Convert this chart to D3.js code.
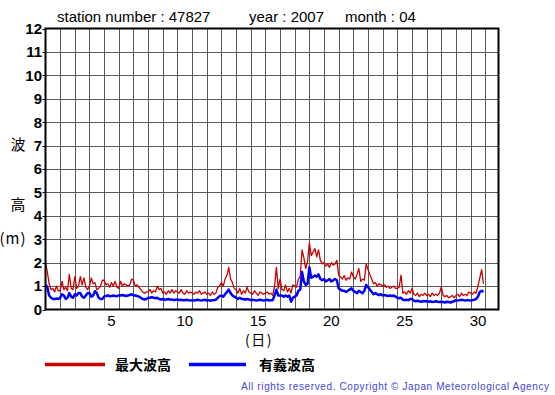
<!DOCTYPE html>
<html><head><meta charset="utf-8">
<script src="https://cdn.jsdelivr.net/npm/d3@7"></script>
<style>
html,body{margin:0;padding:0;background:#fff;}
svg{display:block;}
</style></head>
<body>
<svg id="chart" width="555" height="395"></svg>
<script>
// ---- data (3-hourly samples, April 2007, station 47827) ----
const stationNumber = "47827";
const year = "2007";
const month = "04";
const stepsPerDay = 8;
// 最大波高 (maximum wave height, m)
const maxWave = [
 2.0,1.6,1.1,0.85,0.9,0.75,1.0,0.8,
 0.8,1.2,0.85,0.95,0.8,1.5,0.9,0.85,
 1.4,0.9,1.0,1.4,1.05,1.35,0.95,0.85,
 1.0,1.35,1.1,1.15,0.85,0.9,1.0,1.25,
 1.25,1.05,1.1,0.95,1.15,1.0,1.2,0.95,
 0.9,1.2,1.0,1.1,1.05,1.0,1.05,1.3,
 1.25,1.0,1.05,0.95,0.85,0.75,0.7,0.75,
 0.75,0.85,0.7,0.8,0.75,1.0,0.85,0.9,
 0.7,0.75,0.65,0.8,0.7,0.85,0.7,0.8,
 0.75,0.7,0.85,0.7,0.65,0.8,0.7,0.75,
 0.7,0.65,0.75,0.7,0.8,0.65,0.7,0.75,
 0.65,0.7,0.6,0.75,0.65,0.7,0.95,1.0,
 1.15,1.0,1.3,1.45,1.8,1.3,1.15,0.9,
 0.85,0.7,0.9,0.65,0.8,0.7,0.95,0.75,
 0.7,0.65,0.8,0.7,0.6,0.75,0.7,0.65,
 0.7,0.75,0.65,0.7,0.6,1.0,1.8,0.9,
 1.3,0.85,0.8,1.05,0.75,0.9,0.7,1.05,
 1.0,0.95,1.3,1.4,2.55,2.2,1.75,2.05,
 2.85,2.3,2.45,2.6,2.25,2.55,2.1,1.95,
 2.0,1.85,1.95,1.8,2.0,1.9,1.95,2.1,
 1.45,1.4,1.3,1.45,1.25,1.35,1.3,1.6,
 1.4,1.3,1.5,1.75,1.2,1.3,1.25,1.95,
 1.7,1.5,1.3,1.1,1.15,1.0,1.1,1.05,
 1.0,1.05,0.95,1.0,0.9,0.95,1.0,0.9,
 0.9,0.95,1.47,0.7,0.75,0.65,0.8,0.7,
 0.9,0.65,0.6,0.7,0.55,0.65,0.6,0.7,
 0.6,0.65,0.55,0.7,0.6,0.65,0.6,0.7,
 0.97,0.6,0.55,0.6,0.5,0.55,0.6,0.5,
 0.6,0.65,0.55,0.7,0.6,0.65,0.6,0.75,
 0.7,0.65,0.75,0.7,1.0,1.35,1.7,1.1
];
// 有義波高 (significant wave height, m)
const sigWave = [
 1.07,0.95,0.6,0.5,0.45,0.45,0.47,0.45,
 0.5,0.65,0.6,0.45,0.5,0.7,0.55,0.5,
 0.65,0.6,0.7,0.7,0.55,0.5,0.6,0.7,
 0.7,0.55,0.6,0.78,0.7,0.5,0.45,0.45,
 0.55,0.58,0.6,0.57,0.58,0.6,0.58,0.57,
 0.6,0.6,0.62,0.6,0.58,0.6,0.62,0.65,
 0.6,0.6,0.58,0.55,0.5,0.45,0.43,0.45,
 0.5,0.5,0.52,0.5,0.48,0.5,0.45,0.43,
 0.45,0.42,0.43,0.45,0.42,0.43,0.4,0.42,
 0.43,0.4,0.42,0.4,0.4,0.42,0.4,0.38,
 0.4,0.38,0.4,0.42,0.4,0.38,0.4,0.42,
 0.38,0.4,0.37,0.4,0.4,0.42,0.5,0.57,
 0.6,0.55,0.65,0.75,0.85,0.7,0.6,0.55,
 0.5,0.45,0.5,0.45,0.45,0.42,0.45,0.43,
 0.4,0.42,0.4,0.38,0.4,0.42,0.4,0.38,
 0.4,0.42,0.38,0.4,0.4,0.6,0.85,0.6,
 0.6,0.6,0.55,0.6,0.55,0.6,0.33,0.5,
 0.55,0.6,0.8,0.85,1.6,1.2,1.05,1.1,
 1.8,1.35,1.4,1.45,1.4,1.5,1.3,1.25,
 1.3,1.2,1.25,1.3,1.2,1.25,1.3,1.25,
 0.9,0.85,0.8,0.8,0.75,0.8,0.85,0.9,
 0.8,0.75,0.7,0.8,0.75,0.7,0.8,1.05,
 0.95,0.85,0.75,0.65,0.7,0.65,0.62,0.65,
 0.6,0.62,0.6,0.58,0.6,0.57,0.6,0.55,
 0.5,0.48,0.5,0.42,0.4,0.42,0.4,0.45,
 0.45,0.38,0.35,0.37,0.35,0.33,0.36,0.35,
 0.35,0.33,0.35,0.32,0.33,0.35,0.33,0.32,
 0.33,0.32,0.3,0.33,0.32,0.3,0.33,0.35,
 0.4,0.38,0.4,0.42,0.4,0.38,0.4,0.4,
 0.38,0.4,0.42,0.45,0.55,0.75,0.8,0.75
];
const xTickDays = [5,10,15,20,25,30];
const yTicks = [0,1,2,3,4,5,6,7,8,9,10,11,12];
const legendLabels = ["最大波高","有義波高"];
const seriesColors = ["#cc0000","#0000ff"];

// ---- layout ----
const L = 45.5, R = 498.5, T = 28.5, B = 309.5;
const svg = d3.select("#chart");
const x = d3.scaleLinear().domain([0, 30.9]).range([L, R]);
const y = d3.scaleLinear().domain([0, 12]).range([B, T]);
const sans = "'Liberation Sans', Arial, Helvetica, sans-serif";
const cjk = "'Noto Sans CJK JP', 'Noto Sans CJK SC', sans-serif";

// grid
const g = svg.append("g");
g.selectAll(".vg").data(d3.range(1, 31)).enter().append("line")
  .attr("x1", d => Math.round(x(d)) + 0.5).attr("x2", d => Math.round(x(d)) + 0.5)
  .attr("y1", T).attr("y2", B).attr("stroke", "#5a5a5a").attr("stroke-width", 1);
g.selectAll(".hg").data(yTicks.slice(1, -1)).enter().append("line")
  .attr("x1", L).attr("x2", R)
  .attr("y1", d => Math.round(y(d)) + 0.5).attr("y2", d => Math.round(y(d)) + 0.5)
  .attr("stroke", "#5a5a5a").attr("stroke-width", 1);

// left ticks
g.selectAll(".yt").data(yTicks).enter().append("line")
  .attr("x1", L - 3).attr("x2", L)
  .attr("y1", d => Math.round(y(d)) + 0.5).attr("y2", d => Math.round(y(d)) + 0.5)
  .attr("stroke", "#000").attr("stroke-width", 1);

// series
const line = d3.line().x((d, i) => x(i / stepsPerDay)).y(d => y(d));
svg.append("path").datum(maxWave).attr("d", line)
  .attr("fill", "none").attr("stroke", seriesColors[0]).attr("stroke-width", 1.3)
  .attr("stroke-linejoin", "round");
svg.append("path").datum(sigWave).attr("d", line)
  .attr("fill", "none").attr("stroke", seriesColors[1]).attr("stroke-width", 2.5)
  .attr("stroke-linejoin", "round");

// frame
svg.append("rect").attr("x", L).attr("y", T).attr("width", R - L).attr("height", B - T)
  .attr("fill", "none").attr("stroke", "#000").attr("stroke-width", 2);

// y tick labels
svg.selectAll(".yl").data(yTicks).enter().append("text")
  .attr("x", 42).attr("y", d => y(d)).attr("dy", "0.36em")
  .attr("text-anchor", "end").attr("font-family", sans).attr("font-weight", "bold")
  .attr("font-size", 15).text(d => d);

// x tick labels
svg.selectAll(".xl").data(xTickDays).enter().append("text")
  .attr("x", d => x(d - 0.5)).attr("y", 326)
  .attr("text-anchor", "middle").attr("font-family", sans)
  .attr("font-size", 15).text(d => d);

// axis titles
svg.append("text").attr("x", 259).attr("y", 345).attr("text-anchor", "middle")
  .attr("font-family", cjk).attr("font-size", 14).attr("letter-spacing", 1.5).text("(日)");
svg.append("text").attr("x", 18).attr("y", 150).attr("text-anchor", "middle")
  .attr("font-family", cjk).attr("font-size", 15).text("波");
svg.append("text").attr("x", 18).attr("y", 210).attr("text-anchor", "middle")
  .attr("font-family", cjk).attr("font-size", 15).text("高");
svg.append("text").attr("x", 13).attr("y", 244).attr("text-anchor", "middle")
  .attr("font-family", cjk).attr("font-size", 15).attr("letter-spacing", 1).text("(m)");

// title
const title = svg.append("text").attr("y", 22).attr("font-family", sans).attr("font-size", 15);
title.append("tspan").attr("x", 57).text("station number : " + stationNumber);
title.append("tspan").attr("x", 249).text("year : " + year);
title.append("tspan").attr("x", 345).text("month : " + month);

// legend
const legX = [[45, 105, 115], [189, 246, 259]];
legendLabels.forEach((lab, i) => {
  svg.append("line").attr("x1", legX[i][0]).attr("x2", legX[i][1])
    .attr("y1", 364.5).attr("y2", 364.5).attr("stroke", seriesColors[i]).attr("stroke-width", 3.5);
  svg.append("text").attr("x", legX[i][2]).attr("y", 370)
    .attr("font-family", cjk).attr("font-weight", "bold").attr("font-size", 14).text(lab);
});

// footer
svg.append("text").attr("x", 241).attr("y", 390).attr("font-family", sans)
  .attr("font-size", 10).attr("fill", "#4646dc")
  .attr("textLength", 308).attr("lengthAdjust", "spacing")
  .text("All rights reserved. Copyright © Japan Meteorological Agency");
</script>
</body></html>
